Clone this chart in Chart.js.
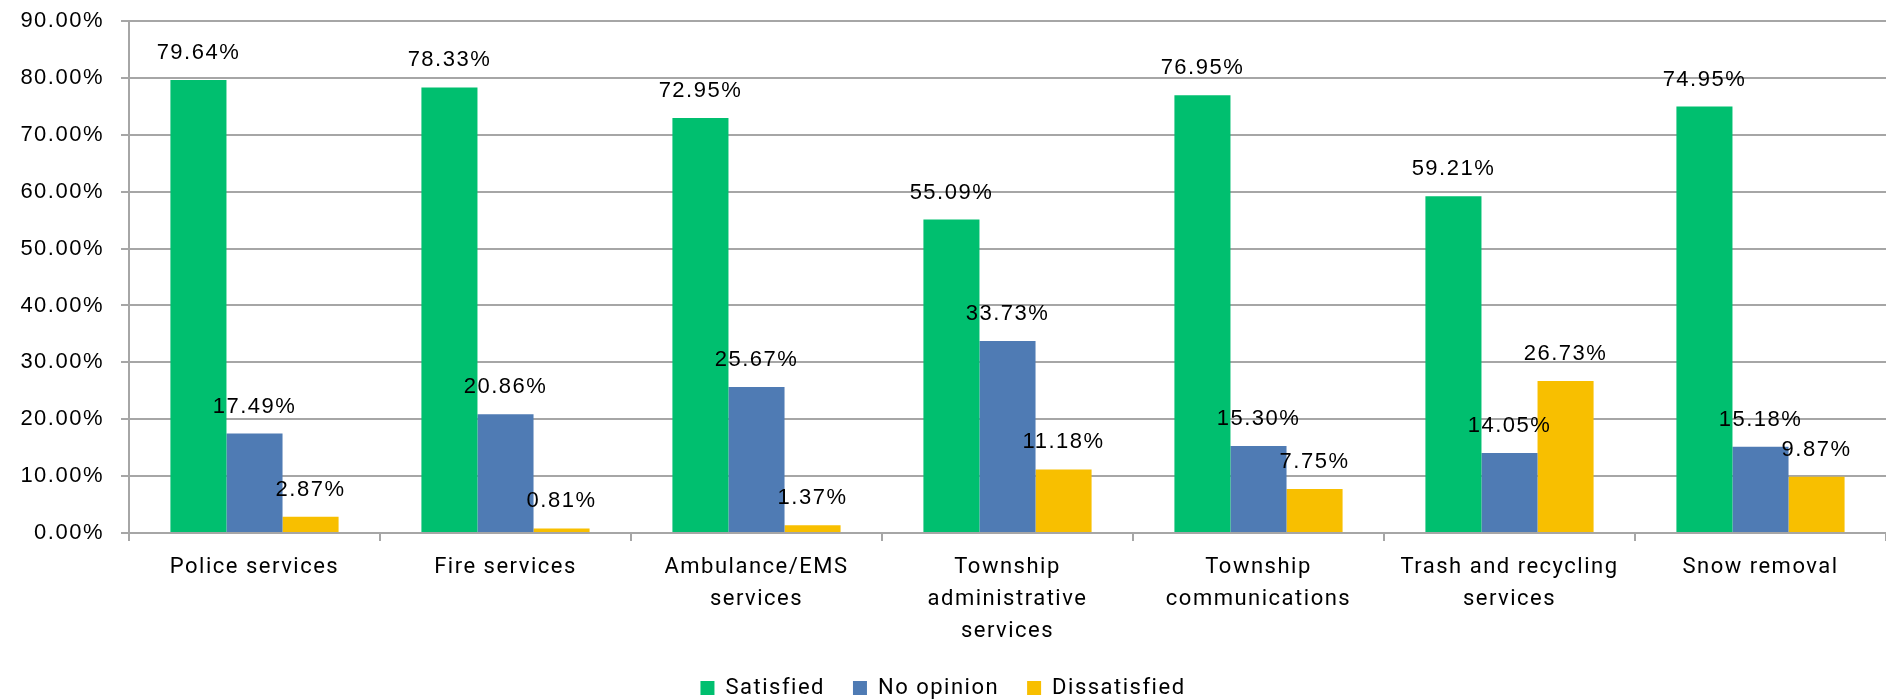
<!DOCTYPE html>
<html>
<head>
<meta charset="utf-8">
<script src="https://cdn.jsdelivr.net/npm/chart.js@4"></script>
<style>
  html, body { margin: 0; padding: 0; background: #fff; }
  #wrap { width: 1886px; height: 700px; }
</style>
</head>
<body>
<div id="wrap"><canvas id="chart" width="1886" height="700"></canvas></div>
<script>
const categories = [
    'Police services',
    'Fire services',
    ['Ambulance/EMS', 'services'],
    ['Township', 'administrative', 'services'],
    ['Township', 'communications'],
    ['Trash and recycling', 'services'],
    'Snow removal'
];
const satisfied = [79.64, 78.33, 72.95, 55.09, 76.95, 59.21, 74.95];
const noOpinion = [17.49, 20.86, 25.67, 33.73, 15.30, 14.05, 15.18];
const dissatisfied = [2.87, 0.81, 1.37, 11.18, 7.75, 26.73, 9.87];

const gridColor = '#a6a6a6';
const numberFont = '"Liberation Sans", Arial, sans-serif';
const textFont = 'Roboto, sans-serif';

// the original text is set a little wider than our fonts
const spacing = {
    id: 'spacing',
    beforeLayout(chart) { chart.ctx.letterSpacing = '1.5px'; },
    beforeDraw(chart) { chart.ctx.letterSpacing = '1.5px'; }
};

// value labels above each bar
const barLabels = {
    id: 'barLabels',
    afterDatasetsDraw(chart) {
        const ctx = chart.ctx;
        ctx.save();
        ctx.font = '22px ' + numberFont;
        ctx.fillStyle = '#000';
        ctx.textAlign = 'center';
        ctx.textBaseline = 'middle';
        chart.data.datasets.forEach((ds, i) => {
            chart.getDatasetMeta(i).data.forEach((bar, j) => {
                ctx.fillText(ds.data[j].toFixed(2) + '%', bar.x, bar.y - 27);
            });
        });
        ctx.restore();
    }
};

new Chart(document.getElementById('chart'), {
    type: 'bar',
    data: {
        labels: categories,
        datasets: [
            { label: 'Satisfied', data: satisfied, backgroundColor: '#00bf6f' },
            { label: 'No opinion', data: noOpinion, backgroundColor: '#4f7bb4' },
            { label: 'Dissatisfied', data: dissatisfied, backgroundColor: '#f8bf00' }
        ]
    },
    options: {
        responsive: false,
        animation: false,
        layout: { padding: { top: 21, right: 0, left: 0, bottom: -9 } },
        datasets: {
            bar: { categoryPercentage: 0.67, barPercentage: 1.0 }
        },
        plugins: {
            legend: {
                position: 'bottom',
                labels: {
                    boxWidth: 14,
                    boxHeight: 14,
                    padding: 28,
                    color: '#000',
                    font: { family: textFont, size: 22 }
                }
            },
            tooltip: { enabled: false }
        },
        scales: {
            x: {
                grid: {
                    offset: true,
                    drawOnChartArea: false,
                    tickLength: 8,
                    color: gridColor,
                    lineWidth: 2
                },
                border: { color: gridColor, width: 2 },
                ticks: {
                    color: '#000',
                    padding: 11,
                    maxRotation: 0,
                    autoSkip: false,
                    font: { family: textFont, size: 22, lineHeight: 1.45 }
                },
                afterFit(scale) { scale.height = 116; }
            },
            y: {
                min: 0,
                max: 90,
                ticks: {
                    stepSize: 10,
                    color: '#000',
                    padding: 17,
                    font: { family: numberFont, size: 22 },
                    callback: v => v.toFixed(2) + '%'
                },
                grid: { color: gridColor, lineWidth: 2, tickLength: 8 },
                border: { color: gridColor, width: 2 },
                afterFit(scale) {
                    scale.width = 129;
                    scale.paddingTop = 0;
                    scale.paddingBottom = 0;
                }
            }
        }
    },
    plugins: [spacing, barLabels]
});
</script>
</body>
</html>
